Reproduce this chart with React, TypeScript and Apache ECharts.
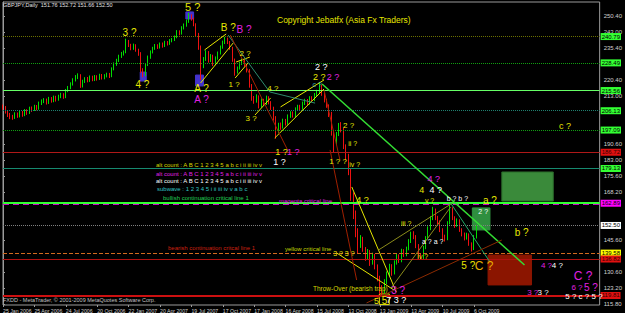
import { useEffect, useRef } from "react";
import * as echarts from "echarts";

// x axis: one category step per week, a date label every 13 weeks
const dateLabels = ["25 Jan 2006", "25 Apr 2006", "24 Jul 2006", "20 Oct 2006", "22 Jan 2007", "20 Apr 2007", "19 Jul 2007", "17 Oct 2007", "17 Jan 2008", "16 Apr 2008", "15 Jul 2008", "13 Oct 2008", "13 Jan 2009", "13 Apr 2009", "10 Jul 2009", "6 Oct 2009"];
const weeksPerLabel = 13;
const totalSlots = 247;
const priceTicks = [250.4, 243.0, 235.4, 220.4, 213.0, 190.6, 183.0, 175.6, 168.2, 145.6, 130.6, 123.2, 115.8];
const priceMin = 115.33;
const priceMax = 256.94;

// [open, close, low, high]
const candles: number[][] = [
  [208.2, 207.5, 206.6, 209.0], [207.5, 205.5, 204.8, 208.3], [205.5, 204.0, 203.2, 206.4], [204.0, 203.0, 202.2, 205.1],
  [203.0, 202.8, 201.9, 204.2], [202.8, 204.5, 202.3, 205.4], [204.5, 203.5, 202.8, 205.3], [203.5, 205.2, 203.0, 206.1],
  [205.2, 204.0, 203.3, 206.0], [204.0, 206.0, 203.6, 206.9], [206.0, 205.0, 204.2, 206.8], [205.0, 207.2, 204.6, 208.0],
  [207.2, 206.5, 205.6, 208.1], [206.5, 208.0, 206.0, 208.9], [208.0, 207.0, 206.3, 208.8], [207.0, 209.5, 206.6, 210.4],
  [209.5, 210.5, 208.8, 211.4], [210.5, 211.0, 209.7, 212.0], [211.0, 209.8, 209.0, 211.8], [209.8, 211.8, 209.3, 212.6],
  [211.8, 210.6, 209.9, 212.5], [210.6, 212.4, 210.1, 213.2], [212.4, 211.2, 210.4, 213.1], [211.2, 212.8, 210.8, 213.6],
  [212.8, 213.6, 212.0, 214.5], [213.6, 212.5, 211.7, 214.3], [212.5, 215.5, 212.0, 216.3], [215.5, 216.8, 214.8, 217.7],
  [216.8, 218.5, 216.2, 219.4], [218.5, 220.5, 217.9, 221.3], [220.5, 222.0, 219.8, 222.8], [222.0, 222.8, 220.9, 223.6],
  [222.8, 217.6, 216.8, 223.2], [217.6, 219.8, 217.0, 220.6], [219.8, 221.0, 219.1, 221.8], [221.0, 220.2, 219.4, 221.9],
  [220.2, 221.8, 219.6, 222.6], [221.8, 220.6, 219.9, 222.5], [220.6, 222.0, 220.0, 222.8], [222.0, 221.0, 220.2, 222.7],
  [221.0, 222.6, 220.5, 223.4], [222.6, 221.4, 220.7, 223.3], [221.4, 222.4, 220.8, 223.2], [222.4, 223.0, 221.7, 223.9],
  [223.0, 222.2, 221.4, 223.8], [222.2, 225.5, 221.8, 226.4], [225.5, 227.8, 225.0, 228.7], [227.8, 229.5, 227.1, 230.4],
  [229.5, 231.5, 228.9, 232.3], [231.5, 232.8, 230.8, 233.6], [232.8, 233.4, 231.9, 234.3], [233.4, 238.6, 233.0, 239.8],
  [238.6, 236.8, 235.9, 239.2], [236.8, 235.2, 234.4, 237.4], [235.2, 236.6, 234.6, 237.5], [236.6, 234.5, 233.7, 237.2],
  [234.5, 233.0, 231.8, 235.1], [233.0, 225.0, 223.8, 233.5], [225.0, 222.8, 221.8, 226.0], [222.8, 227.5, 222.3, 228.3],
  [227.5, 231.0, 227.0, 231.9], [231.0, 233.5, 230.4, 234.3], [233.5, 235.2, 232.9, 236.0], [235.2, 236.5, 234.6, 237.3],
  [236.5, 235.8, 235.0, 237.2], [235.8, 237.2, 235.2, 238.0], [237.2, 236.4, 235.6, 238.0], [236.4, 238.0, 235.9, 238.8],
  [238.0, 237.4, 236.6, 238.7], [237.4, 238.8, 236.9, 239.6], [238.8, 239.2, 238.1, 240.1], [239.2, 240.5, 238.7, 241.3],
  [240.5, 243.0, 240.0, 243.8], [243.0, 242.2, 241.4, 243.7], [242.2, 244.8, 241.7, 245.6], [244.8, 246.0, 244.1, 246.9],
  [246.0, 247.8, 245.4, 248.7], [247.8, 250.5, 247.2, 251.8], [250.5, 249.0, 248.2, 251.2], [249.0, 246.5, 245.6, 249.6],
  [246.5, 242.0, 241.0, 247.0], [242.0, 236.0, 234.6, 242.5], [236.0, 228.5, 220.5, 236.6], [228.5, 230.0, 226.0, 231.2],
  [230.0, 233.5, 229.4, 234.4], [233.5, 229.5, 228.6, 234.0], [229.5, 231.8, 228.9, 232.6], [231.8, 228.0, 227.0, 232.3],
  [228.0, 230.6, 227.4, 231.5], [230.6, 233.0, 230.0, 233.8], [233.0, 235.8, 232.4, 236.6], [235.8, 238.0, 235.1, 238.9],
  [238.0, 239.6, 237.3, 240.6], [239.6, 238.2, 237.3, 240.3], [238.2, 235.5, 234.6, 238.7], [235.5, 230.0, 229.0, 236.0],
  [230.0, 224.2, 222.5, 230.5], [224.2, 226.0, 223.5, 226.8], [226.0, 228.2, 225.4, 229.0], [228.2, 229.4, 227.5, 230.5],
  [229.4, 227.6, 226.8, 230.0], [227.6, 225.0, 224.0, 228.1], [225.0, 218.0, 216.9, 225.6], [218.0, 212.0, 210.8, 218.6],
  [212.0, 210.5, 209.4, 213.0], [210.5, 212.8, 209.9, 213.8], [212.8, 208.2, 207.2, 213.3], [208.2, 211.0, 207.6, 211.9],
  [211.0, 209.4, 208.5, 211.7], [209.4, 212.2, 208.8, 213.2], [212.2, 210.0, 209.1, 212.9], [210.0, 207.5, 206.5, 210.6],
  [207.5, 203.0, 201.5, 208.0], [203.0, 196.5, 193.0, 203.6], [196.5, 199.5, 195.6, 200.5], [199.5, 198.5, 197.2, 200.6],
  [198.5, 201.5, 197.8, 202.4], [201.5, 200.2, 199.2, 202.3], [200.2, 203.5, 199.6, 204.4], [203.5, 205.0, 202.8, 205.9],
  [205.0, 203.8, 202.9, 205.8], [203.8, 206.8, 203.2, 207.7], [206.8, 208.0, 206.1, 208.9], [208.0, 207.2, 206.3, 208.9],
  [207.2, 209.5, 206.6, 210.4], [209.5, 210.8, 208.8, 211.7], [210.8, 209.6, 208.7, 211.6], [209.6, 212.0, 209.0, 212.9],
  [212.0, 211.2, 210.3, 212.9], [211.2, 213.5, 210.6, 214.4], [213.5, 215.0, 212.8, 215.9], [215.0, 217.8, 214.3, 219.6],
  [217.8, 214.0, 213.1, 218.4], [214.0, 211.0, 210.0, 214.6], [211.0, 208.5, 207.5, 211.7], [208.5, 205.0, 203.2, 209.1],
  [205.0, 196.0, 194.5, 205.6], [196.0, 191.0, 186.4, 197.0], [191.0, 195.0, 190.0, 196.2], [195.0, 199.0, 194.3, 200.4],
  [199.0, 197.5, 196.0, 200.8], [197.5, 189.5, 188.2, 198.2], [189.5, 185.0, 183.0, 190.4], [185.0, 178.0, 176.0, 186.0],
  [178.0, 166.5, 164.0, 179.0], [166.5, 158.0, 155.5, 168.0], [158.0, 150.0, 147.0, 159.5], [150.0, 143.5, 139.6, 151.2],
  [143.5, 146.5, 142.0, 148.0], [146.5, 141.5, 140.2, 147.2], [141.5, 137.5, 136.0, 142.4], [137.5, 140.2, 136.8, 141.5],
  [140.2, 135.0, 133.6, 141.0], [135.0, 138.5, 134.2, 139.8], [138.5, 133.5, 132.0, 139.2], [133.5, 128.0, 126.4, 134.3],
  [128.0, 123.0, 120.5, 129.0], [123.0, 121.5, 119.2, 124.6], [121.5, 126.0, 120.8, 127.4], [126.0, 129.8, 125.1, 131.0],
  [129.8, 133.5, 128.8, 134.6], [133.5, 130.2, 129.0, 134.4], [130.2, 135.0, 129.6, 136.2], [135.0, 138.2, 134.2, 139.3],
  [138.2, 136.0, 135.0, 139.0], [136.0, 140.5, 135.3, 141.6], [140.5, 138.8, 137.8, 141.4], [138.8, 141.5, 138.1, 142.6],
  [141.5, 145.0, 140.9, 146.1], [145.0, 148.5, 144.3, 149.6], [148.5, 147.2, 146.1, 149.8], [147.2, 143.0, 141.9, 148.0],
  [143.0, 138.0, 137.0, 143.8], [138.0, 137.2, 136.4, 139.3], [137.2, 142.0, 136.8, 143.0], [142.0, 146.5, 141.4, 147.5],
  [146.5, 151.0, 145.9, 152.1], [151.0, 155.8, 150.3, 156.8], [155.8, 159.5, 155.0, 161.2], [159.5, 156.0, 155.0, 160.4],
  [156.0, 154.0, 152.9, 157.0], [154.0, 150.5, 149.4, 154.9], [150.5, 147.0, 145.8, 151.2], [147.0, 146.0, 145.0, 148.2],
  [146.0, 153.5, 145.6, 154.5], [153.5, 160.0, 153.0, 163.0], [160.0, 156.0, 155.0, 161.0], [156.0, 152.5, 151.4, 156.8],
  [152.5, 154.8, 151.9, 155.8], [154.8, 150.5, 149.5, 155.4], [150.5, 148.5, 147.4, 151.2], [148.5, 146.5, 145.5, 149.2],
  [146.5, 148.2, 145.9, 149.1], [148.2, 144.0, 143.0, 148.8], [144.0, 141.5, 140.3, 144.6], [141.5, 147.0, 141.0, 148.0],
  [147.0, 152.5, 146.4, 152.7],
];

// horizontal price levels
const levelValues = [240.79, 228.49, 215.56, 206.13, 197.09, 186.72, 179.13, 162.89, 152.5, 139.58, 136.82, 119.81];
const levelStyles = [
  { color: "#6b7000", type: "dotted", width: 1, bg: "#33ff33", fg: "#000" },
  { color: "#10a010", type: "dotted", width: 1, bg: "#33ff33", fg: "#000" },
  { color: "#66ff66", type: "solid", width: 1, bg: "#33ff33", fg: "#000" },
  { color: "#1f8070", type: "dotted", width: 1, bg: "#33ff33", fg: "#000" },
  { color: "#10a010", type: "dotted", width: 1, bg: "#33ff33", fg: "#000" },
  { color: "#b01818", type: "solid", width: 1, bg: "#e01010", fg: "#300" },
  { color: "#168a70", type: "solid", width: 1, bg: "#33ff33", fg: "#000" },
  { color: "#33ff33", type: "solid", width: 2, bg: "#ff00ff", fg: "#000" },
  { color: "#808080", type: "dotted", width: 1, bg: "#ffffff", fg: "#000" },
  { color: "#d2691e", type: "dashed", width: 1, bg: "#ffff00", fg: "#000" },
  { color: "#b01010", type: "solid", width: 1, bg: "#e01010", fg: "#300" },
  { color: "#cc1010", type: "solid", width: 2, bg: "#e01010", fg: "#300" },
];

// trend lines in data space: [i1, p1, i2, p2, styleKey]
const trendLines: [number, number, number, number, string][] = [
  [81.8, 219.1, 95.3, 237.8, "Y"], [83.4, 234.5, 92.4, 242.0, "Y"],
  [96.5, 228.9, 102.2, 231.2, "Y"], [96.1, 221.4, 101.4, 228.4, "Y"],
  [104.3, 204.1, 110.8, 212.1, "Y"], [114.9, 207.9, 132.9, 220.5, "Y"],
  [112.5, 193.4, 132.9, 216.3, "Y"], [144.4, 170.5, 162.8, 121.4, "Y"],
  [138.2, 139.6, 161.9, 122.3, "Y"],
  [155.4, 141.0, 186.1, 163.0, "O"], [160.7, 123.3, 185.3, 161.1, "O"],
  [132.1, 218.6, 215.9, 134.0, "G"], [185.3, 163.0, 201.6, 135.4, "g"],
  [93.2, 241.5, 110.4, 214.9, "T"], [110.4, 214.9, 129.2, 209.7, "T"],
  [94.1, 241.5, 117.8, 187.8, "R"], [132.9, 215.8, 139.5, 183.1, "R"],
  [135.4, 187.8, 146.4, 127.0, "R"], [150.5, 116.3, 206.5, 145.7, "B"],
];
const lineColors: Record<string, [string, number]> = {
  Y: ["#e6e600", 1], O: ["#8c8c1a", 1], G: ["#33dd33", 1.5], g: ["#22aa66", 1],
  T: ["#2e8b6e", 1], R: ["#a02000", 1], B: ["#8b2a00", 1],
};

// boxes in data space: [i1, p1, i2, p2, fill, border]
const boxes: [number, number, number, number, string, string][] = [
  [75.7, 252.3, 78.9, 249.0, "#4433cc", "#4433cc"],
  [56.8, 224.2, 59.3, 220.0, "#4433cc", "#4433cc"],
  [79.7, 222.8, 83.0, 217.7, "#4433cc", "#4433cc"],
  [206.5, 177.5, 227.8, 163.9, "#3a8a3a", "#2a6a2a"],
  [200.8, 138.7, 218.8, 124.7, "#8b1500", "#8b1500"],
  [194.3, 160.7, 201.6, 150.4, "#2f8f3f", "#2f8f3f"],
  [155.8, 120.5, 159.9, 115.6, "rgba(0,0,0,0)", "#e6e600"],
];

// Elliott wave labels: [i, price, text, colorKey, size]
const waveLabels: [number, number, string, string, number][] = [
  [78.5, 254.6, "5 ?", "Y", 11], [52.4, 242.5, "3 ?", "Y", 10], [57.7, 218.6, "4 ?", "Y", 10],
  [93.3, 244.8, "B ?", "Y", 10], [99.8, 244.3, "B ?", "M", 10], [82.2, 216.3, "A ?", "Y", 10],
  [82.2, 211.6, "A ?", "M", 10], [100.2, 233.1, "2 ?", "Y", 8], [95.7, 218.6, "1 ?", "Y", 8],
  [111.7, 216.7, "4 ?", "Y", 8], [102.7, 202.7, "3 ?", "Y", 8], [115.3, 186.8, "1 ?", "Y", 9],
  [120.2, 186.8, "1 ?", "M", 9], [114.5, 182.2, "1 ?", "W", 9], [131.7, 226.6, "2 ?", "W", 9],
  [130.9, 221.9, "2 ?", "Y", 9], [136.6, 221.9, "2 ?", "M", 9], [130.1, 218.6, "c ?", "C", 7],
  [143.1, 199.4, "2 ?", "Y", 8], [232.7, 199.0, "c ?", "Y", 9], [138.7, 182.2, "1 ? ?", "Y", 8],
  [145.6, 181.2, "iv ?", "Y", 7], [144.8, 191.0, "ii ?", "Y", 7], [148.8, 164.4, "4 ?", "Y", 9],
  [173.4, 169.0, "4", "Y", 9], [179.1, 169.0, "4 ?", "W", 9], [178.3, 174.0, "4 ?", "M", 9],
  [201.6, 164.4, "a ?", "Y", 10], [214.7, 149.0, "b ?", "Y", 10], [192.6, 134.0, "5 ?", "Y", 10],
  [199.2, 133.6, "C ?", "O", 12], [225.0, 133.6, "4 ?", "M", 8], [229.5, 133.6, "4 ?", "W", 8],
  [240.1, 128.9, "C ?", "M", 12], [237.6, 123.3, "6 ?", "M", 8], [243.4, 123.7, "5 ?", "M", 10],
  [219.3, 121.4, "3 ?", "M", 8], [223.6, 121.4, "3 ?", "W", 8], [240.5, 119.1, "5 ? c ? 5 ?", "W", 8],
  [163.6, 122.3, "3 ?", "M", 10], [154.6, 117.2, "5", "Y", 9], [157.9, 117.4, "5", "Y", 10],
  [162.8, 117.7, "7 3 ?", "W", 9], [141.1, 139.6, "3 ? 3 ?", "Y", 7], [166.9, 153.6, "iii ?", "Y", 7],
  [173.8, 137.8, "iv ?", "Y", 7], [176.6, 164.4, "v ?", "Y", 7], [188.1, 165.3, "b ? b ?", "W", 7],
  [177.9, 144.8, "a ? a ?", "W", 7], [198.8, 159.2, "2 ?", "W", 7],
];
const labelColors: Record<string, string> = { Y: "#e6e600", M: "#e020e0", W: "#ffffff", C: "#33b0b0", O: "#e8b000" };

// fixed chart texts: [x, y, text, color, size]
const chartTexts: [number, number, string, string, number][] = [
  [3, 5, "GBPJPY,Daily  151.76 152.72 151.66 152.50", "#e0e0e0", 5.5],
  [277, 20, "Copyright Jebatfx (Asia Fx Traders)", "#e6e600", 8.5],
  [156, 165, "alt count : A B C 1 2 3 4 5 a b c i ii iii iv v", "#d8d800", 6],
  [156, 174, "alt count : A B C 1 2 3 4 5 a b c i ii iii iv v", "#e020e0", 6],
  [156, 181, "alt count : A B C 1 2 3 4 5 a b c i ii iii iv v", "#ffffff", 6],
  [157, 189, "subwave : 1 2 3 4 5 i ii iii iv v a b c", "#33c0c0", 6],
  [163, 198, "bullish continuation critical line 1", "#22cc55", 6],
  [279, 201, "magenta critical line", "#e020e0", 6],
  [168, 248, "bearish continuation critcal line 1", "#d02010", 6],
  [285, 249, "yellow critical line", "#c8d800", 6],
  [313, 288, "Throw-Over (bearish trap)", "#d8d800", 6.5],
  [3, 300, "FXDD - MetaTrader, \u00a9 2001-2009 MetaQuotes Software Corp.", "#c0c0c0", 5.5],
];

const FONT = "'Liberation Sans', Arial, sans-serif";

export default function App() {
  const ref = useRef<HTMLDivElement>(null);
  useEffect(() => {
    if (!ref.current) return;
    const chart = echarts.init(ref.current, null, { renderer: "svg" });

    const levelLines = levelValues.map((v, k) => {
      const s = levelStyles[k];
      return {
        yAxis: v,
        lineStyle: { color: s.color, type: s.type, width: s.width },
        label: {
          show: true, position: "end", formatter: v.toFixed(2), fontSize: 6, fontFamily: FONT,
          color: s.fg, backgroundColor: s.bg, padding: [1, 1, 0, 1], distance: 1,
        },
      };
    });
    const magentaDash = {
      yAxis: 162.6,
      lineStyle: { color: "#cc00cc", type: [6, 4], width: 1 },
      label: { show: false },
    };
    const trend = trendLines.map(([i1, p1, i2, p2, k]) => [
      { coord: [i1, p1], lineStyle: { color: lineColors[k][0], width: lineColors[k][1], type: "solid" }, label: { show: false } },
      { coord: [i2, p2] },
    ]);
    const areas = boxes.map(([i1, p1, i2, p2, fill, border]) => [
      { coord: [i1, p1], itemStyle: { color: fill, borderColor: border, borderWidth: 1 } },
      { coord: [i2, p2] },
    ]);
    const points = waveLabels.map(([i, p, t, c, s]) => ({
      coord: [i, p],
      symbol: "circle",
      symbolSize: 1,
      itemStyle: { color: "rgba(0,0,0,0)" },
      label: { show: true, position: "inside", formatter: t, color: labelColors[c], fontSize: s, fontFamily: FONT },
    }));

    chart.setOption({
      animation: false,
      backgroundColor: "#000000",
      textStyle: { fontFamily: FONT },
      grid: { left: 2, right: 19, top: 2, bottom: 8, show: true, borderColor: "#9a9a9a", borderWidth: 1, backgroundColor: "#000" },
      xAxis: {
        type: "value", min: 0, max: totalSlots, interval: weeksPerLabel,
        axisLine: { show: false },
        axisTick: { show: true, length: 2, lineStyle: { color: "#9a9a9a" }, customValues: dateLabels.map((_, k) => k * weeksPerLabel) },
        splitLine: { show: false },
        axisLabel: {
          customValues: dateLabels.map((_, k) => k * weeksPerLabel),
          align: "left", margin: 3, fontSize: 5.2, color: "#d0d0d0", showMinLabel: true, showMaxLabel: true,
          hideOverlap: false,
          formatter: (v: number) => dateLabels[Math.round(v / weeksPerLabel)] || "",
        },
      },
      yAxis: {
        type: "value", position: "right", min: priceMin, max: priceMax, scale: true,
        axisLine: { show: true, lineStyle: { color: "#9a9a9a" } },
        axisTick: { show: true, length: 2, lineStyle: { color: "#9a9a9a" }, customValues: priceTicks },
        splitLine: { show: false },
        axisLabel: {
          customValues: priceTicks, showMinLabel: true, showMaxLabel: true,
          formatter: (v: number) => v.toFixed(2), fontSize: 6, color: "#d0d0d0", margin: 4,
        },
      },
      graphic: chartTexts.map(([x, y, t, c, s]) => ({
        type: "text", x, y, z: 100,
        style: { text: t, fill: c, fontSize: s, fontFamily: FONT, verticalAlign: "middle", align: "left" },
      })),
      series: [
        {
          type: "candlestick",
          data: candles.map((c, i) => [i, c[0], c[1], c[2], c[3]]),
          encode: { x: 0, y: [1, 2, 3, 4] },
          barWidth: 1.3,
          itemStyle: { color: "#00dd00", color0: "#ee1111", borderColor: "#00dd00", borderColor0: "#ee1111", borderWidth: 1 },
          markArea: { silent: true, label: { show: false }, data: areas },
          markLine: { silent: true, symbol: ["none", "none"], data: [...levelLines, magentaDash, ...trend] },
          markPoint: { silent: true, data: points },
        },
      ],
    });
    return () => chart.dispose();
  }, []);
  return (
    <div
      ref={ref}
      style={{ position: "absolute", left: 0, top: 0, width: 625, height: 313, background: "#000" }}
    />
  );
}
